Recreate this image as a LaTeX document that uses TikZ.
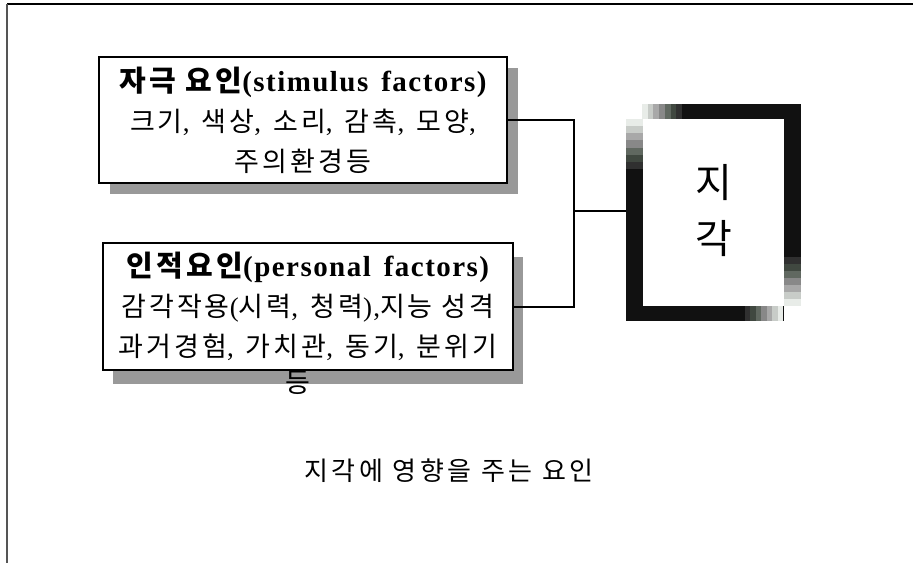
\documentclass[tikz,border=0pt]{standalone}
\usepackage{fontspec}
\setmainfont{Liberation Serif}[LetterSpace=5, WordSpace=1.5]
\newfontfamily\kr{Noto Sans CJK KR}[LetterSpace=11]
\newfontfamily\krwide{Noto Sans CJK KR}[LetterSpace=14]
\newfontfamily\krplain{Noto Sans CJK KR}
\usetikzlibrary{shadows}

\definecolor{ink}{HTML}{111111}
\definecolor{shadowgray}{HTML}{999999}
\definecolor{rulegray}{HTML}{555555}
\definecolor{fadeA}{HTML}{E8ECE8}
\definecolor{fadeB}{HTML}{C8CCC8}
\definecolor{fadeC}{HTML}{A8A8A8}
\definecolor{fadeD}{HTML}{888888}
\definecolor{fadeE}{HTML}{606860}
\definecolor{fadeF}{HTML}{404840}
\definecolor{fadeG}{HTML}{303030}

\newcommand{\headline}[1]{{\fontsize{29}{40}\selectfont\bfseries #1}}

\tikzset{
  factorbox/.style={draw=black, line width=2pt, fill=white, inner sep=0pt,
    align=center, font=\fontsize{27}{40}\selectfont},
  conn/.style={draw=black, line width=2pt},
  plain/.style={inner sep=0pt}
}

\begin{document}
\begin{tikzpicture}[x=1pt, y=-1pt]
  \useasboundingbox (0,0) rectangle (913,563);

  % page rules
  \draw[black, line width=2pt] (7,4) -- (913,4);
  \draw[rulegray, line width=1.5pt] (7,4) -- (7,563);

  % stimulus factors
  \node[factorbox, minimum width=408pt, minimum height=126pt,
        drop shadow={shadow xshift=11pt, shadow yshift=-11pt, fill=shadowgray, opacity=1}]
    (stim) at (303,120)
    {\headline{{\kr 자극 요인}(stimulus factors)}\\
     {\kr 크기}, {\kr 색상}, {\kr 소리}, {\kr 감촉}, {\kr 모양},\\
     {\kr 주의환경등}};

  % personal factors
  \node[factorbox, minimum width=410pt, minimum height=127pt,
        drop shadow={shadow xshift=10pt, shadow yshift=-14pt, fill=shadowgray, opacity=1}]
    (pers) at (308,306.5)
    {\headline{{\kr 인적요인}(personal factors)}\\
     {\kr 감각작용}({\kr 시력}, {\kr 청력}),{\kr 지능 성격}\\
     {\kr 과거경험}, {\kr 가치관}, {\kr 동기}, {\kr 분위기}};
  \node[plain, font=\kr\fontsize{27}{28}\selectfont] (persend) at (298,383) {등};

  % perception frame with faded corners
  \fill[ink] (626,104) rectangle (801,321);
  \fill[white] (643,119) rectangle (784,306);
  \fill[white] (626,104) rectangle (642,119);
  \fill[white] (784,306) rectangle (801,321);
  \foreach \i/\c in {0/fadeA,1/fadeB,2/fadeC,3/fadeD,4/fadeE,5/fadeF,6/fadeG}{
    \fill[\c] ({642+\i*5.72},104) rectangle ({642+(\i+1)*5.72},119);
    \fill[\c] (626,{119+\i*7.15}) rectangle (643,{119+(\i+1)*7.15});
    \fill[\c] (784,{306-(\i+1)*7.0}) rectangle (801,{306-\i*7.0});
    \fill[\c] ({783-(\i+1)*5.43},306) rectangle ({783-\i*5.43},321);
  }
  \node[plain, minimum width=175pt, minimum height=217pt, align=center,
        font=\krplain\fontsize{40}{56}\selectfont] (perc) at (713.5,211) {지\\각};

  % connectors
  \coordinate (join) at (574,211);
  \draw[conn] (stim.east) -| (join);
  \draw[conn] (pers.east) -| (join);
  \draw[conn] (join) -- (perc.west);

  % caption
  \node[plain, font=\krwide\fontsize{26}{30}\selectfont] (caption) at (449,471)
    {지각에 영향을 주는 요인};
\end{tikzpicture}
\end{document}
